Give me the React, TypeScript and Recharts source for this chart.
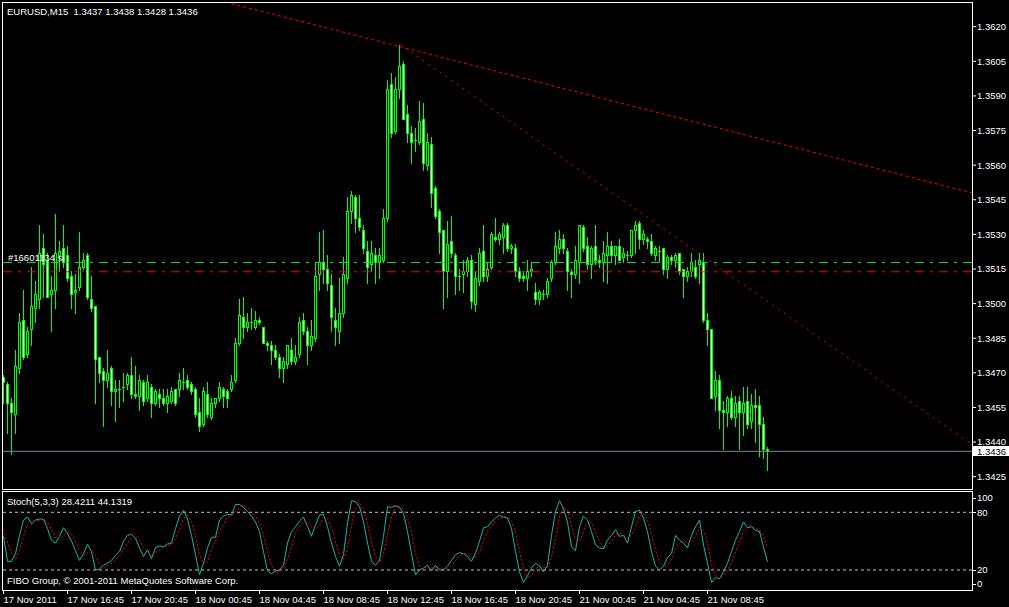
import React from 'react';
import { ComposedChart, Bar, Line, XAxis, YAxis, ReferenceLine } from 'recharts';

const FONT = '"Liberation Sans", Arial, sans-serif';
const FS = 9.5;
const LIME = '#00FF00';

// ---- price data (EURUSD M15) ----
const OPEN = [
  1.3468,1.3465,1.3457,1.3452,1.3472,1.3493,1.3478,1.3489,1.3498,1.3502,
  1.3524,1.3519,1.3504,1.3506,1.3521,1.3524,1.3521,1.3512,1.3505,1.3507,
  1.3516,1.3521,1.3502,1.3499,1.3477,1.3471,1.3467,1.3472,1.3462,1.3463,
  1.3464,1.3465,1.3469,1.3461,1.3460,1.3466,1.3459,1.3464,1.3457,1.3461,
  1.3459,1.3457,1.3458,1.3463,1.3463,1.3466,1.3467,1.3465,1.3463,1.3453,
  1.3448,1.3461,1.3451,1.3457,1.3459,1.3463,1.3462,1.3463,1.3467,1.3483,
  1.3494,1.3490,1.3492,1.3490,1.3493,1.3490,1.3483,1.3482,1.3480,1.3477,
  1.3472,1.3474,1.3480,1.3475,1.3478,1.3493,1.3488,1.3482,1.3485,1.3513,
  1.3518,1.3515,1.3508,1.3493,1.3488,1.3496,1.3511,1.3540,1.3546,1.3537,
  1.3532,1.3523,1.3517,1.3521,1.3518,1.3519,1.3537,1.3595,1.3575,1.3593,
  1.3604,1.3582,1.3574,1.3571,1.3570,1.3580,1.3560,1.3569,1.3550,1.3540,
  1.3532,1.3514,1.3527,1.3521,1.3512,1.3513,1.3514,1.3519,1.3500,1.3510,
  1.3523,1.3512,1.3516,1.3529,1.3528,1.3529,1.3534,1.3524,1.3524,1.3514,
  1.3512,1.3511,1.3514,1.3505,1.3502,1.3504,1.3504,1.3511,1.3518,1.3524,
  1.3528,1.3523,1.3514,1.3513,1.3518,1.3533,1.3525,1.3517,1.3525,1.3519,
  1.3518,1.3521,1.3525,1.3521,1.3525,1.3520,1.3521,1.3521,1.3532,1.3535,
  1.3528,1.3528,1.3527,1.3521,1.3523,1.3524,1.3515,1.3520,1.3519,1.3522,
  1.3515,1.3512,1.3514,1.3516,1.3517,1.3518,1.3493,1.3489,1.3460,1.3467,
  1.3454,1.3453,1.3459,1.3451,1.3458,1.3453,1.3458,1.3449,1.3456,1.3456,
  1.3448,1.3437,
];
const HIGH = [
  1.3469,1.3466,1.3459,1.3480,1.3496,1.3506,1.3490,1.3516,1.3510,1.3534,
  1.3530,1.3522,1.3512,1.3539,1.3527,1.3534,1.3525,1.3514,1.3513,1.3531,
  1.3522,1.3522,1.3512,1.3499,1.3477,1.3472,1.3480,1.3473,1.3467,1.3467,
  1.3470,1.3470,1.3477,1.3473,1.3469,1.3467,1.3469,1.3465,1.3463,1.3463,
  1.3463,1.3463,1.3464,1.3463,1.3470,1.3472,1.3469,1.3466,1.3464,1.3459,
  1.3464,1.3466,1.3459,1.3459,1.3466,1.3464,1.3463,1.3469,1.3485,1.3502,
  1.3503,1.3496,1.3498,1.3497,1.3494,1.3490,1.3484,1.3484,1.3482,1.3478,
  1.3477,1.3482,1.3485,1.3482,1.3494,1.3496,1.3490,1.3493,1.3518,1.3531,
  1.3532,1.3521,1.3513,1.3498,1.3511,1.3520,1.3546,1.3549,1.3547,1.3547,
  1.3534,1.3527,1.3527,1.3524,1.3524,1.3541,1.3597,1.3600,1.3598,1.3612,
  1.3605,1.3586,1.3577,1.3576,1.3588,1.3587,1.3574,1.3572,1.3551,1.3541,
  1.3532,1.3536,1.3538,1.3522,1.3515,1.3519,1.3520,1.3521,1.3514,1.3524,
  1.3534,1.3518,1.3531,1.3537,1.3531,1.3535,1.3535,1.3526,1.3526,1.3516,
  1.3514,1.3519,1.3518,1.3509,1.3506,1.3506,1.3511,1.3519,1.3531,1.3532,
  1.3530,1.3524,1.3515,1.3525,1.3534,1.3534,1.3529,1.3525,1.3534,1.3521,
  1.3527,1.3531,1.3527,1.3525,1.3528,1.3524,1.3523,1.3532,1.3536,1.3536,
  1.3532,1.3529,1.3530,1.3525,1.3525,1.3524,1.3521,1.3521,1.3522,1.3522,
  1.3515,1.3516,1.3522,1.3519,1.3522,1.3522,1.3496,1.3489,1.3471,1.3469,
  1.3458,1.3460,1.3462,1.3460,1.3460,1.3464,1.3464,1.3461,1.3463,1.3460,
  1.3451,1.3438,
];
const LOW = [
  1.3457,1.3444,1.3435,1.3444,1.3470,1.3476,1.3477,1.3482,1.3492,1.3498,
  1.3503,1.3503,1.3488,1.3498,1.3514,1.3516,1.3510,1.3498,1.3496,1.3506,
  1.3515,1.3502,1.3497,1.3457,1.3466,1.3447,1.3464,1.3456,1.3449,1.3455,
  1.3458,1.3463,1.3459,1.3459,1.3454,1.3456,1.3458,1.3451,1.3456,1.3455,
  1.3456,1.3453,1.3457,1.3456,1.3460,1.3463,1.3463,1.3461,1.3451,1.3445,
  1.3447,1.3451,1.3450,1.3455,1.3458,1.3455,1.3455,1.3462,1.3466,1.3482,
  1.3485,1.3488,1.3489,1.3489,1.3491,1.3483,1.3480,1.3474,1.3476,1.3468,
  1.3466,1.3472,1.3474,1.3474,1.3477,1.3487,1.3474,1.3480,1.3484,1.3506,
  1.3509,1.3506,1.3488,1.3482,1.3483,1.3494,1.3509,1.3535,1.3531,1.3532,
  1.3522,1.3509,1.3514,1.3509,1.3511,1.3518,1.3536,1.3572,1.3574,1.3589,
  1.3580,1.3570,1.3561,1.3566,1.3569,1.3558,1.3558,1.3542,1.3537,1.3522,
  1.3498,1.3503,1.3520,1.3504,1.3506,1.3505,1.3512,1.3498,1.3497,1.3508,
  1.3510,1.3510,1.3515,1.3527,1.3526,1.3522,1.3523,1.3522,1.3512,1.3510,
  1.3510,1.3506,1.3512,1.3500,1.3500,1.3502,1.3503,1.3510,1.3517,1.3522,
  1.3522,1.3506,1.3503,1.3511,1.3509,1.3523,1.3515,1.3511,1.3517,1.3516,
  1.3510,1.3509,1.3518,1.3517,1.3519,1.3518,1.3519,1.3520,1.3522,1.3524,
  1.3526,1.3524,1.3521,1.3519,1.3518,1.3513,1.3511,1.3517,1.3516,1.3513,
  1.3503,1.3510,1.3512,1.3511,1.3509,1.3492,1.3482,1.3459,1.3454,1.3446,
  1.3437,1.3447,1.3450,1.3447,1.3437,1.3443,1.3446,1.3446,1.3440,1.3434,
  1.3433,1.3428,
];
const CLOSE = [
  1.3466,1.3457,1.3453,1.3473,1.3492,1.3477,1.3488,1.3499,1.3504,1.3522,
  1.3517,1.3503,1.3506,1.3522,1.3523,1.3518,1.3511,1.3504,1.3506,1.3516,
  1.3519,1.3503,1.3498,1.3476,1.3470,1.3467,1.3470,1.3462,1.3463,1.3463,
  1.3464,1.3469,1.3461,1.3460,1.3467,1.3458,1.3466,1.3457,1.3462,1.3459,
  1.3457,1.3460,1.3462,1.3457,1.3467,1.3466,1.3464,1.3462,1.3452,1.3447,
  1.3462,1.3452,1.3457,1.3459,1.3464,1.3460,1.3459,1.3466,1.3483,1.3495,
  1.3490,1.3492,1.3492,1.3493,1.3492,1.3483,1.3482,1.3480,1.3477,1.3472,
  1.3475,1.3482,1.3475,1.3477,1.3492,1.3488,1.3482,1.3486,1.3512,1.3518,
  1.3515,1.3509,1.3494,1.3490,1.3496,1.3513,1.3540,1.3547,1.3537,1.3533,
  1.3524,1.3516,1.3522,1.3518,1.3521,1.3537,1.3593,1.3574,1.3593,1.3603,
  1.3580,1.3574,1.3570,1.3571,1.3579,1.3561,1.3570,1.3548,1.3538,1.3531,
  1.3514,1.3526,1.3522,1.3512,1.3512,1.3514,1.3519,1.3501,1.3511,1.3522,
  1.3512,1.3515,1.3530,1.3528,1.3530,1.3534,1.3524,1.3525,1.3514,1.3511,
  1.3511,1.3514,1.3515,1.3502,1.3505,1.3504,1.3510,1.3518,1.3525,1.3528,
  1.3524,1.3514,1.3513,1.3519,1.3534,1.3524,1.3517,1.3524,1.3519,1.3518,
  1.3522,1.3525,1.3521,1.3525,1.3519,1.3522,1.3521,1.3532,1.3534,1.3528,
  1.3530,1.3527,1.3522,1.3524,1.3523,1.3515,1.3520,1.3519,1.3521,1.3514,
  1.3512,1.3514,1.3518,1.3512,1.3519,1.3493,1.3489,1.3459,1.3467,1.3454,
  1.3453,1.3459,1.3451,1.3457,1.3453,1.3457,1.3448,1.3456,1.3455,1.3448,
  1.3437,1.3436,
];

// ---- Stochastic (5,3,3) ----
const STOCH_K = [
  55,29,29,37,56,72,75,68,72,73,
  73,63,51,48,55,64,58,50,40,30,
  37,47,39,20,21,25,27,30,35,39,
  50,56,57,53,43,34,41,32,43,45,
  44,47,48,63,76,82,73,56,36,15,
  27,43,54,54,72,76,78,77,88,88,
  85,81,76,70,60,39,19,16,19,20,
  25,48,60,65,71,75,65,55,67,77,
  78,65,48,34,24,36,69,92,91,86,
  70,48,29,25,30,55,86,85,87,85,
  79,60,37,15,20,22,25,19,25,20,
  20,24,30,36,38,37,34,29,37,50,
  64,65,70,74,77,75,74,63,39,18,
  7,14,22,27,24,18,25,56,81,92,
  84,70,44,40,65,76,72,60,46,43,
  42,51,56,62,55,56,48,65,81,82,
  74,60,39,24,20,24,33,37,56,51,
  48,43,56,65,72,46,27,7,12,11,
  18,27,39,51,60,70,64,65,61,60,
  44,28.42,
];
const STOCH_D = [
  62,48,37.7,31.7,40.7,55,67.7,71.7,71.7,71,
  72.7,69.7,62.3,54,51.3,55.7,59,57.3,49.3,40,
  35.7,38,41,35.3,26.7,22,24.3,27.3,30.7,34.7,
  41.3,48.3,54.3,55.3,51,43.3,39.3,35.7,38.7,40,
  44,45.3,46.3,52.7,62.3,73.7,77,70.3,55,35.7,
  26,28.3,41.3,50.3,60,67.3,75.3,77,81,84.3,
  87,84.7,80.7,75.7,68.7,56.3,39.3,24.7,18,18.3,
  21.3,31,44.3,57.7,65.3,70.3,70.3,65,62.3,66.3,
  74,73.3,63.7,49,35.3,31.3,43,65.7,84,89.7,
  82.3,68,49,34,28,36.7,57,75.3,86,85.7,
  83.7,74.7,58.7,37.3,24,19,22.3,22,23,21.3,
  21.7,21.3,24.7,30,34.7,37,36.3,33.3,33.3,38.7,
  50.3,59.7,66.3,69.7,73.7,75.3,75.3,70.7,58.7,40,
  21.3,13,14.3,21,24.3,23,22.3,33,54,76.3,
  85.7,82,66,51.3,49.7,60.3,71,69.3,59.3,49.7,
  43.7,45.3,49.7,56.3,57.7,57.7,53,56.3,64.7,76,
  79,72,57.7,41,27.7,22.7,25.7,31.3,42,48,
  51.7,47.3,49,54.7,64.3,61,48.3,26.7,15.3,10,
  13.7,18.7,28,39,50,60.3,64.7,66.3,63.3,62,
  55,44.13,
];

// ---- axes / levels ----
const TIME_TICKS = [0, 16, 32, 48, 64, 80, 96, 112, 128, 144, 160, 176];
const TIME_LABELS = [
  '17 Nov 2011', '17 Nov 16:45', '17 Nov 20:45', '18 Nov 00:45', '18 Nov 04:45', '18 Nov 08:45',
  '18 Nov 12:45', '18 Nov 16:45', '18 Nov 20:45', '21 Nov 00:45', '21 Nov 04:45', '21 Nov 08:45',
];
const PRICE_TICKS = [1.3425, 1.344, 1.3455, 1.347, 1.3485, 1.35, 1.3515, 1.353, 1.3545, 1.356, 1.3575, 1.359, 1.3605, 1.362];
const STOCH_TICKS = [0, 20, 80, 100];
const STOCH_LEVELS = [20, 80];
const ORDER_PRICE = 1.35178;
const STOP_PRICE = 1.35138;
const BID_PRICE = 1.3436;
const ORDER_LABEL = '#16601134 sl';
const TREND_UPPER = [{ i: 57, p: 1.363 }, { i: 242.125, p: 1.3548 }];
const TREND_LOWER = [{ i: 99, p: 1.36125 }, { i: 242.125, p: 1.3439 }];

const TITLE = 'EURUSD,M15  1.3437 1.3438 1.3428 1.3436';
const STOCH_TITLE = 'Stoch(5,3,3) 28.4211 44.1319';
const COPYRIGHT = 'FIBO Group, \u00A9 2001-2011 MetaQuotes Software Corp.';

const X_DOMAIN: [number, number] = [-0.375, 242.125];
const PRICE_DOMAIN: [number, number] = [1.341967, 1.36307];
const STOCH_DOMAIN: [number, number] = [-0.8, 102.15];

const candles = OPEN.map((o, i) => ({
  i, open: o, high: HIGH[i], low: LOW[i], close: CLOSE[i], range: [LOW[i], HIGH[i]],
}));
const stoch = STOCH_K.map((k, i) => ({ i, k, d: STOCH_D[i] }));

const CandleShape = (props: any) => {
  const { x, y, width, height, payload } = props;
  if (x == null || y == null || !payload) return null;
  const { open, close, high, low } = payload;
  const col = Math.floor(x + width / 2);
  const span = high - low;
  const k = span > 0 ? height / span : 0;
  const yOf = (v: number) => y + (high - v) * k;
  const top = Math.round(y);
  const bottom = Math.round(y + height);
  const bTop = Math.round(yOf(Math.max(open, close)));
  const bBot = Math.round(yOf(Math.min(open, close)));
  const bodyH = Math.max(1, bBot - bTop + 1);
  const bull = close > open;
  return (
    <g shapeRendering="crispEdges">
      <rect x={col} y={top} width={1} height={Math.max(1, bottom - top + 1)} fill={LIME} />
      <rect x={col - 1} y={bTop} width={3} height={bodyH} fill={LIME} />
      {bodyH > 2 && (
        <rect x={col} y={bTop + 1} width={1} height={bodyH - 2} fill={bull ? '#000000' : '#FFFFFF'} />
      )}
    </g>
  );
};

const BidLabel = (props: any) => {
  const vb = props.viewBox || {};
  const x = (vb.x || 0) + (vb.width || 0);
  const y = vb.y || 0;
  return (
    <g>
      <rect x={x + 1} y={Math.round(y) - 5} width={36} height={10} fill="#FFFFFF" shapeRendering="crispEdges" />
      <text x={x + 5} y={y} dy="0.36em" fill="#000000" fontSize={FS} fontFamily={FONT}>
        {BID_PRICE.toFixed(4)}
      </text>
    </g>
  );
};

const OrderLabel = (props: any) => {
  const vb = props.viewBox || {};
  return (
    <text x={(vb.x || 0) + 6} y={(vb.y || 0) - 1.5} fill="#FFFFFF" fontSize={FS} fontFamily={FONT}>
      {ORDER_LABEL}
    </text>
  );
};

const TimeTick = (props: any) => {
  const { x, y, payload } = props;
  const idx = TIME_TICKS.indexOf(payload.value);
  return (
    <text x={x} y={y} dy="0.71em" textAnchor="start" fill="#FFFFFF" fontSize={FS} fontFamily={FONT}>
      {idx >= 0 ? TIME_LABELS[idx] : ''}
    </text>
  );
};

const StochTick = (props: any) => {
  const { x, y, payload } = props;
  const v = payload.value;
  const yy = v === 100 ? y + 5 : v === 0 ? y - 5.5 : y;
  const ly = Math.round(yy) + 0.5;
  return (
    <g>
      <line x1={x - 5} x2={x - 1} y1={ly} y2={ly} stroke="#FFFFFF" strokeWidth={1} />
      <text x={x} y={yy} dy="0.36em" textAnchor="start" fill="#FFFFFF" fontSize={FS} fontFamily={FONT}>
        {String(v)}
      </text>
    </g>
  );
};

const textStyle: React.CSSProperties = {
  position: 'absolute',
  color: '#FFFFFF',
  fontFamily: FONT,
  fontSize: FS,
  lineHeight: 1,
  whiteSpace: 'pre',
};

export default function App() {
  return (
    <div style={{ position: 'fixed', left: 0, top: 0, width: 1009, height: 607, background: '#000000', overflow: 'hidden' }}>
      <div style={{ position: 'absolute', left: 0, top: 0 }}>
        <ComposedChart width={1009} height={490} data={candles} margin={{ top: 2, right: 0, bottom: 1, left: 2 }}>
          <XAxis type="number" dataKey="i" domain={X_DOMAIN} allowDataOverflow hide />
          <YAxis
            type="number"
            orientation="right"
            width={37}
            domain={PRICE_DOMAIN}
            allowDataOverflow
            ticks={PRICE_TICKS}
            interval={0}
            tickFormatter={(v: number) => v.toFixed(4)}
            axisLine={false}
            tickLine={{ stroke: '#FFFFFF' }}
            tickSize={4}
            tickMargin={1}
            tick={{ fill: '#FFFFFF', fontSize: FS, fontFamily: FONT }}
          />
          <ReferenceLine y={ORDER_PRICE} stroke="#32CD32" strokeDasharray="9 6 3 6" label={<OrderLabel />} />
          <ReferenceLine y={STOP_PRICE} stroke="#FF0000" strokeDasharray="9 6 3 6" />
          <ReferenceLine
            segment={[{ x: TREND_UPPER[0].i, y: TREND_UPPER[0].p }, { x: TREND_UPPER[1].i, y: TREND_UPPER[1].p }]}
            stroke="#FF0000"
            strokeDasharray="3 3"
          />
          <ReferenceLine
            segment={[{ x: TREND_LOWER[0].i, y: TREND_LOWER[0].p }, { x: TREND_LOWER[1].i, y: TREND_LOWER[1].p }]}
            stroke="#FF0000"
            strokeDasharray="2 5"
          />
          <ReferenceLine y={BID_PRICE} stroke="#778899" label={<BidLabel />} />
          <Bar dataKey="range" barSize={3} shape={(p: any) => <CandleShape {...p} />} isAnimationActive={false} />
        </ComposedChart>
      </div>

      <div style={{ position: 'absolute', left: 0, top: 480 }}>
        <ComposedChart width={1009} height={127} data={stoch} margin={{ top: 11, right: 0, bottom: 0, left: 2 }}>
          <XAxis
            type="number"
            dataKey="i"
            domain={X_DOMAIN}
            allowDataOverflow
            ticks={TIME_TICKS}
            interval={0}
            height={17}
            axisLine={false}
            tickLine={{ stroke: '#FFFFFF' }}
            tickSize={4}
            tickMargin={2}
            tick={<TimeTick />}
          />
          <YAxis
            type="number"
            orientation="right"
            width={37}
            domain={STOCH_DOMAIN}
            allowDataOverflow
            ticks={STOCH_TICKS}
            interval={0}
            axisLine={false}
            tickLine={false}
            tickSize={4}
            tickMargin={1}
            tick={<StochTick />}
          />
          {STOCH_LEVELS.map((lv) => (
            <ReferenceLine key={lv} y={lv} stroke="#C0C0C0" strokeDasharray="3 3" />
          ))}
          <Line type="linear" dataKey="k" stroke="#20B2AA" strokeWidth={1} dot={false} isAnimationActive={false} />
          <Line type="linear" dataKey="d" stroke="#FF0000" strokeWidth={1} strokeDasharray="2 2" dot={false} isAnimationActive={false} />
        </ComposedChart>
      </div>

      <div style={{ position: 'absolute', left: 2, top: 2, width: 971, height: 488, border: '1px solid #FFFFFF', boxSizing: 'border-box', pointerEvents: 'none' }} />
      <div style={{ position: 'absolute', left: 2, top: 491, width: 971, height: 100, border: '1px solid #FFFFFF', boxSizing: 'border-box', pointerEvents: 'none' }} />

      <div style={{ ...textStyle, left: 7, top: 6.5 }}>{TITLE}</div>
      <div style={{ ...textStyle, left: 7, top: 497 }}>{STOCH_TITLE}</div>
      <div style={{ ...textStyle, left: 7, top: 576 }}>{COPYRIGHT}</div>
    </div>
  );
}
